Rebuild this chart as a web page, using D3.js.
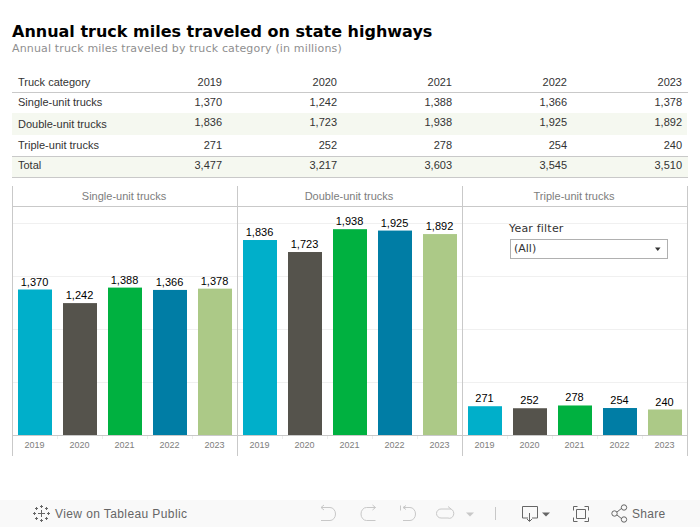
<!DOCTYPE html>
<html><head><meta charset="utf-8">
<script src="https://cdn.jsdelivr.net/npm/d3@7"></script>
<style>html,body{margin:0;padding:0;background:#fff}svg{display:block}</style>
</head><body><svg id="c" width="700" height="527"></svg>
<script>
const years = ["2019","2020","2021","2022","2023"];
const categories = ["Single-unit trucks","Double-unit trucks","Triple-unit trucks"];
const singleUnit = [1370,1242,1388,1366,1378];
const doubleUnit = [1836,1723,1938,1925,1892];
const tripleUnit = [271,252,278,254,240];
const totals = [3477,3217,3603,3545,3510];
const colors = ["#00afca","#55534c","#00b140","#007da5","#acc987"];
const gridTicks = [500,1000,1500,2000];

const svg = d3.select("#c");
const fmt = d3.format(",");
const ARIAL = "'Liberation Sans',Arial,sans-serif", DEJA = "'DejaVu Sans',sans-serif";
const line = "#c9c9c9";

// titles
svg.append("text").attr("x",12).attr("y",37).attr("font-family",DEJA).attr("font-weight","bold").attr("font-size",16).attr("fill","#000").text("Annual truck miles traveled on state highways");
svg.append("text").attr("x",12).attr("y",52).attr("font-family",DEJA).attr("font-size",11).attr("letter-spacing",.155).attr("fill","#8f8f8f").text("Annual truck miles traveled by truck category (in millions)");

// table
const rowY = d3.scaleOrdinal().domain(["head","0","1","2","total"]).range([86,106,128,149,169]);
const colX = d3.scalePoint().domain(years).range([222,682]);
svg.append("rect").attr("x",12).attr("y",113).attr("width",675).attr("height",22).attr("fill","#f5f8f0");
svg.append("rect").attr("x",12).attr("y",157).attr("width",676).attr("height",20).attr("fill","#f5f8f0");
[92.5,156.5,177.5].forEach(y=>svg.append("line").attr("x1",12).attr("x2",688).attr("y1",y).attr("y2",y).attr("stroke",line));
const rows = [
  {key:"head",label:"Truck category",vals:years},
  {key:"0",label:categories[0],vals:singleUnit.map(fmt)},
  {key:"1",label:categories[1],vals:doubleUnit.map(fmt)},
  {key:"2",label:categories[2],vals:tripleUnit.map(fmt)},
  {key:"total",label:"Total",vals:totals.map(fmt)}
];
rows.forEach(r=>{
  const g = svg.append("g").attr("font-family",ARIAL).attr("font-size",11).attr("fill","#333");
  g.append("text").attr("x",18).attr("y",rowY(r.key)).text(r.label);
  r.vals.forEach((v,i)=>g.append("text").attr("x",colX(years[i])).attr("y",rowY(r.key)-(r.key==="1"?2:0)).attr("text-anchor","end").text(v));
});

// facets
const facetX = d3.scaleBand().domain(categories).range([12.5,687.5]);
const y = d3.scaleLinear().domain([0,2000]).range([435,222.6]);
const series = [singleUnit,doubleUnit,tripleUnit];
const x = d3.scaleBand().domain(years).range([0,225]).paddingInner(11/45).paddingOuter(5.5/45);

svg.append("g").selectAll("line").data(gridTicks).join("line")
  .attr("x1",12.5).attr("x2",687.5).attr("y1",d=>Math.round(y(d))+.5).attr("y2",d=>Math.round(y(d))+.5).attr("stroke","#f0f0f0");

categories.forEach((c,k)=>{
  const g = svg.append("g").attr("transform",`translate(${facetX(c)},0)`);
  g.append("text").attr("x",111.5).attr("y",200).attr("text-anchor","middle").attr("font-family",ARIAL).attr("font-size",11).attr("fill","#7d7d7d").text(c);
  g.selectAll("rect").data(series[k]).join("rect")
    .attr("x",(d,i)=>x(years[i])).attr("width",x.bandwidth()).attr("y",d=>y(d)).attr("height",d=>y(0)-y(d))
    .attr("fill",(d,i)=>colors[i]);
  g.selectAll("text.v").data(series[k]).join("text").attr("class","v")
    .attr("x",(d,i)=>x(years[i])+x.bandwidth()/2-.5).attr("y",d=>y(d)-4).attr("text-anchor","middle")
    .attr("font-family",ARIAL).attr("font-size",11).attr("fill","#000").text(d=>fmt(d));
  g.selectAll("text.yr").data(years).join("text").attr("class","yr")
    .attr("x",d=>x(d)+x.bandwidth()/2-.5).attr("y",448).attr("text-anchor","middle")
    .attr("font-family",ARIAL).attr("font-size",9).attr("fill","#7d7d7d").text(d=>d);
  g.selectAll("line.t").data(years.slice(1)).join("line").attr("class","t")
    .attr("x1",d=>x(d)-5.5).attr("x2",d=>x(d)-5.5).attr("y1",436).attr("y2",439).attr("stroke","#ededed");
});
[12.5,237.5,462.5,687.5].forEach(px=>svg.append("line").attr("x1",px).attr("x2",px).attr("y1",186).attr("y2",456).attr("stroke",line));
[206.5,435.5].forEach(py=>svg.append("line").attr("x1",12).attr("x2",688).attr("y1",py).attr("y2",py).attr("stroke",line));

// filter
svg.append("text").attr("x",509).attr("y",232).attr("font-family",DEJA).attr("font-size",11).attr("fill","#333").attr("letter-spacing",.2).text("Year filter");
svg.append("rect").attr("x",510.5).attr("y",239.5).attr("width",157).attr("height",19).attr("fill","#fff").attr("stroke","#b0b0b0");
svg.append("text").attr("x",514).attr("y",252).attr("font-family",DEJA).attr("font-size",11).attr("fill","#333").text("(All)");
svg.append("path").attr("d","M655 247.5h5.5l-2.75 3.5z").attr("fill","#333");

// toolbar
svg.append("rect").attr("x",0).attr("y",500).attr("width",700).attr("height",27).attr("fill","#f9f9f9");
svg.append("text").attr("x",55).attr("y",518).attr("font-family",ARIAL).attr("font-size",12).attr("letter-spacing",.4).attr("fill","#666").text("View on Tableau Public");
svg.append("text").attr("x",632).attr("y",518).attr("font-family",ARIAL).attr("font-size",12).attr("fill","#666").attr("letter-spacing",.3).text("Share");
const tb = svg.append("g").attr("fill","none").attr("stroke-width",1);
const dis="#c8c8c8", en="#666";
// tableau logo
const logo = svg.append("g").attr("stroke","#666").attr("stroke-width",1).attr("fill","none");
[[41.5,513.5,3.5],[34.5,513.5,1.5],[48.5,513.5,1.5],[41.5,506.5,1.5],[41.5,520.5,1.5],[36.5,508.5,1.5],[46.5,508.5,1.5],[36.5,518.5,1.5],[46.5,518.5,1.5]].forEach(p=>{
  logo.append("path").attr("d",`M${p[0]-p[2]} ${p[1]}h${2*p[2]}M${p[0]} ${p[1]-p[2]}v${2*p[2]}`);
});
// undo, redo, revert, refresh
tb.append("path").attr("stroke",dis).attr("d","M321 507.5h9a5.5 6.5 0 0 1 0 13h-9M321 507.5l3-2.5M321 507.5l3 2.5");
tb.append("path").attr("stroke",dis).attr("d","M375.5 507.5h-9a5.5 6.5 0 0 0 0 13h9M375.5 507.5l-3-2.5M375.5 507.5l-3 2.5");
tb.append("path").attr("stroke",dis).attr("d","M400.5 505.5v5M403 507.5h7a5.5 6.5 0 0 1 0 13h-7M403 507.5l3-2M403 507.5l3 2");
tb.append("path").attr("stroke",dis).attr("d","M451 509h-10a4.5 4.5 0 0 0 0 9h7a4 4.5 0 0 0 3-9M451 509l-3-2.5");
svg.append("path").attr("d","M466 512.5h8l-4 4z").attr("fill",dis);
svg.append("line").attr("x1",495.5).attr("x2",495.5).attr("y1",507).attr("y2",520).attr("stroke",dis);
tb.append("path").attr("stroke",en).attr("d","M528 518h-5.5v-11.5h15v11.5h-5.5M529.5 513v8M527 519l2.5 2.5l2.5-2.5");
svg.append("path").attr("d","M542 512.5h8l-4 4z").attr("fill",en);
tb.append("path").attr("stroke",en).attr("d","M573.5 510.5v-4h4M584.5 506.5h4v4M588.5 517.5v4h-4M577.5 521.5h-4v-4M576.5 509.5h9v9h-9z");
tb.append("path").attr("stroke",en).attr("d","M617 512l5-4M617 515l5 4");
[[614.5,513.5],[624,507.5],[624,519.5]].forEach(c=>tb.append("circle").attr("cx",c[0]).attr("cy",c[1]).attr("r",2.7).attr("stroke",en));
</script></body></html>
